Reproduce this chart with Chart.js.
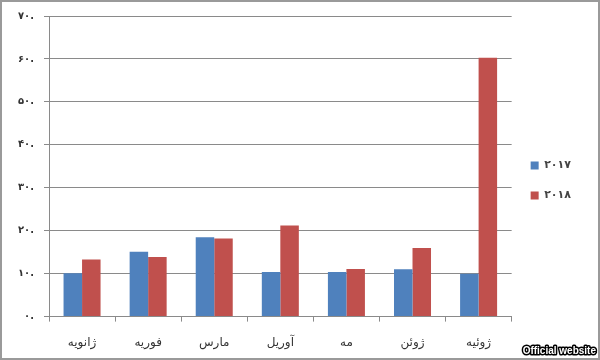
<!DOCTYPE html>
<html><head><meta charset="utf-8">
<script src="https://cdn.jsdelivr.net/npm/chart.js@4"></script>
<style>html,body{margin:0;padding:0;background:#fff}#wrap{width:600px;height:360px;position:relative}</style>
</head><body><div id="wrap"><canvas id="c" width="600" height="360"></canvas></div>
<script>
const categories = ['ژانویه','فوریه','مارس','آوریل','مه','ژوئن','ژوئیه'];
const series2017 = [10.1, 15.1, 18.5, 10.4, 10.4, 11.0, 10.0];
const series2018 = [13.3, 13.9, 18.2, 21.2, 11.1, 16.0, 60.3];
const seriesNames = ['۲۰۱۷', '۲۰۱۸'];
const yTickLabels = ['۰.', '۱۰.', '۲۰.', '۳۰.', '۴۰.', '۵۰.', '۶۰.', '۷۰.'];
const watermark = 'Official website';

const framePlugin = {
  id: 'frame',
  afterLayout(chart) {
    if (chart.legend) chart.legend.bottom -= 14;
  },
  afterDraw(chart) {
    const ctx = chart.ctx;
    ctx.save();
    ctx.strokeStyle = '#9a9a9a';
    ctx.lineWidth = 2;
    ctx.strokeRect(1, 1, chart.width - 2, chart.height - 2);
    ctx.font = 'bold 10px "Liberation Sans", Arial, sans-serif';
    ctx.textAlign = 'right';
    ctx.textBaseline = 'middle';
    ctx.lineWidth = 3;
    ctx.strokeStyle = '#000';
    ctx.lineJoin = 'round';
    ctx.strokeText(watermark, 596, 351);
    ctx.fillStyle = '#fff';
    ctx.fillText(watermark, 596, 351);
    ctx.restore();
  }
};

new Chart(document.getElementById('c'), {
  type: 'bar',
  data: {
    labels: categories,
    datasets: [
      { label: seriesNames[0], data: series2017, backgroundColor: '#4F81BD', barPercentage: 1, categoryPercentage: 0.56 },
      { label: seriesNames[1], data: series2018, backgroundColor: '#C0504D', barPercentage: 1, categoryPercentage: 0.56 }
    ]
  },
  options: {
    responsive: false,
    animation: false,
    devicePixelRatio: 1,
    layout: { padding: { top: 11, left: 8, right: 19, bottom: -4 } },
    plugins: {
      legend: {
        position: 'right',
        labels: {
          boxWidth: 8, boxHeight: 8, padding: 19,
          color: '#444',
          font: { size: 11, family: '"DejaVu Sans", sans-serif', weight: 'bold' }
        }
      },
      tooltip: { enabled: false }
    },
    scales: {
      x: {
        grid: { display: true, drawOnChartArea: false, drawTicks: true, tickLength: 5, color: '#8a8a8a', offset: true },
        border: { color: '#8a8a8a', width: 1 },
        ticks: { color: '#333', padding: 14, font: { size: 12, family: '"DejaVu Sans", sans-serif' } }
      },
      y: {
        min: 0, max: 70,
        grid: { color: '#8a8a8a', lineWidth: 1, tickLength: 5 },
        border: { color: '#8a8a8a', width: 1 },
        ticks: {
          stepSize: 10, color: '#333', padding: 10,
          font: { size: 10, family: '"DejaVu Sans", sans-serif', weight: 'bold' },
          callback: (v) => yTickLabels[Math.round(v / 10)]
        }
      }
    }
  },
  plugins: [framePlugin]
});
</script></body></html>
